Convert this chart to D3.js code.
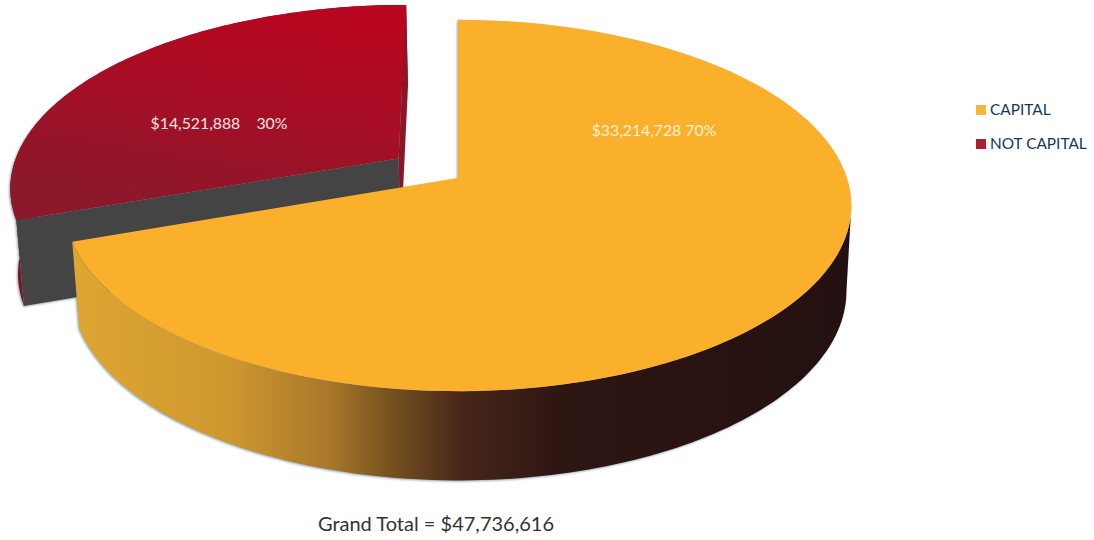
<!DOCTYPE html>
<html>
<head>
<meta charset="utf-8">
<script src="https://cdn.jsdelivr.net/npm/d3@7"></script>
<style>
	html, body { margin: 0; padding: 0; background: #fff; }
	svg { display: block; font-family: Lato, "Open Sans", sans-serif; }
</style>
</head>
<body>
<div id="chart-area"></div>
<script>
// data
const categories = ["CAPITAL", "NOT CAPITAL"];
const amounts = [33214728, 14521888];
const percents = [70, 30];
const grandTotal = 47736616;

const width = 1094;
const height = 540;

// perspective of the disc: unit circle -> screen
const apex = {x: 458, y: 178};
const radiusX = 389, radiusY = 181.6, tilt = -0.148;
const explode = 0.19;   // how far the red slice is pulled out
const baseDrop = 85, baseScaleX = 0.985, baseScaleY = 1.02, baseShift = 1;

function project(dx, dt) {
	const w = 1 + tilt * dt;
	return [apex.x + radiusX * dx / w, apex.y + radiusY * dt / w];
}
// same point on the lower face of the disc
function lower(p) {
	return [apex.x + baseShift + (p[0] - apex.x) * baseScaleX, apex.y + baseDrop + (p[1] - apex.y) * baseScaleY];
}

const pie = d3.pie().sort(null).startAngle(0).endAngle(2 * Math.PI);
const slices = pie(amounts);
const line = d3.line();

function offsetOf(s, amount) {
	const mid = (s.startAngle + s.endAngle) / 2;
	return [Math.sin(mid) * amount, -Math.cos(mid) * amount];
}
function rim(s, off, from, to) {
	const a0 = from === undefined ? s.startAngle : from;
	const a1 = to === undefined ? s.endAngle : to;
	return d3.range(0, 121).map((i) => {
		const a = a0 + (a1 - a0) * i / 120;
		return project(Math.sin(a) + off[0], -Math.cos(a) + off[1]);
	});
}

const color = d3.scaleOrdinal().domain(categories).range(["#f5b83c", "#ae1f2e"]);

const svg = d3.select("#chart-area").append("svg")
	.attr("width", width)
	.attr("height", height);

//gradients
const defs = svg.append("defs");
const wallGrad = defs.append("linearGradient").attr("id", "wall")
	.attr("gradientUnits", "userSpaceOnUse")
	.attr("x1", 70).attr("x2", 855).attr("y1", 0).attr("y2", 0);
[[0, "#dfa632"], [0.2, "#cf982f"], [0.33, "#a9782a"], [0.41, "#74501f"], [0.5, "#47261a"], [0.62, "#2e1613"], [1, "#231010"]]
	.forEach((d) => wallGrad.append("stop").attr("offset", d[0]).attr("stop-color", d[1]));

const redGrad = defs.append("linearGradient").attr("id", "red")
	.attr("gradientUnits", "userSpaceOnUse")
	.attr("x1", 280).attr("x2", 245).attr("y1", 15).attr("y2", 215);
[[0, "#b80620"], [0.5, "#a50f26"], [1, "#8c1829"]]
	.forEach((d) => redGrad.append("stop").attr("offset", d[0]).attr("stop-color", d[1]));

const pieGroup = svg.append("g").style("filter", "drop-shadow(-1px 1px 1px #93a9b5)");

// red slice, pulled out
const red = slices[1];
const redOff = offsetOf(red, explode);
const redRim = rim(red, redOff);
const redApex = project(redOff[0], redOff[1]);
const redStart = redRim[0];
const redEnd = redRim[redRim.length - 1];

pieGroup.append("path")
	.attr("d", line(redRim.concat(redRim.map(lower).reverse())) + "Z")
	.attr("fill", "#7d1522");

pieGroup.append("path")
	.attr("d", line([redApex, redEnd, lower(redEnd), lower(redApex)]) + "Z")
	.attr("fill", "#8c1527");

pieGroup.append("path")
	.attr("d", line([redApex, redStart, lower(redStart), lower(redApex)]) + "Z")
	.attr("fill", "#444444");

pieGroup.append("path")
	.attr("d", line([redApex].concat(redRim)) + "Z")
	.attr("fill", "url(#red)");

// yellow slice
const yellow = slices[0];
const yellowRim = rim(yellow, [0, 0]);
// wall starts where the rim is furthest right
const wallRim = rim(yellow, [0, 0], Math.acos(tilt), yellow.endAngle);

pieGroup.append("path")
	.attr("d", line(wallRim.concat(wallRim.map(lower).reverse())) + "Z")
	.attr("fill", "url(#wall)");

pieGroup.append("path")
	.attr("d", line([project(0, 0)].concat(yellowRim)) + "Z")
	.attr("fill", "#fbb02c");

// data labels
const fmt = d3.format("$,");
svg.append("text")
	.attr("x", 654).attr("y", 136)
	.attr("text-anchor", "middle")
	.attr("font-size", "15.8px")
	.attr("fill", "#fff3d6")
	.text(fmt(amounts[0]) + " " + percents[0] + "%");

svg.append("text")
	.attr("x", 219).attr("y", 129)
	.attr("text-anchor", "middle")
	.attr("font-size", "15.8px")
	.attr("fill", "#f6e4e4")
	.style("white-space", "pre")
	.text(fmt(amounts[1]) + "    " + percents[1] + "%");

// legend
const legend = svg.append("g").attr("transform", "translate(976, 105)");
categories.forEach((c, i) => {
	const row = legend.append("g").attr("transform", "translate(0, " + (i * 34) + ")");
	row.append("rect")
		.attr("width", 10)
		.attr("height", 10)
		.attr("fill", color(c));
	row.append("text")
		.attr("x", 14)
		.attr("y", 10)
		.attr("font-size", "15.4px")
		.attr("fill", "#17375e")
		.text(c);
});

// total
svg.append("text")
	.attr("x", 436).attr("y", 531)
	.attr("text-anchor", "middle")
	.attr("font-size", "20px")
	.attr("fill", "#333")
	.text("Grand Total = " + fmt(grandTotal));
</script>
</body>
</html>
